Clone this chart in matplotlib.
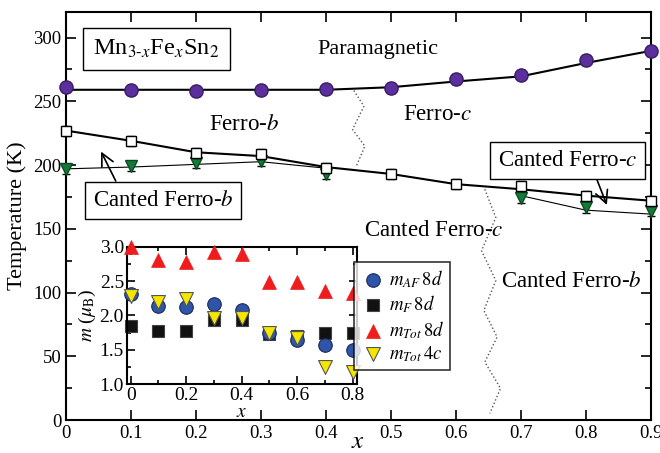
import numpy as np
import matplotlib
matplotlib.use("Agg")
import matplotlib.pyplot as plt
from matplotlib.ticker import MultipleLocator

plt.rcParams['font.family'] = ['Liberation Serif', 'DejaVu Serif']
plt.rcParams['mathtext.fontset'] = 'stix'

# Fe concentration
x = [0.0, 0.1, 0.2, 0.3, 0.4, 0.5, 0.6, 0.7, 0.8, 0.9]

# Curie temperature (paramagnetic boundary)
tc = [261, 258.6, 257.8, 258.6, 259.4, 260.4, 267.4, 270.3, 282.3, 289.6]
tc_err = [4, 4, 4, 4, 4, 4, 4, 4, 4, 4]
tc_line = [259, 259, 259, 259, 259, 261, 265.5, 269.5, 280, 289.5]

# Spin-reorientation temperature (open squares)
tsr = [226.6, 218.8, 209.6, 208.8, 197.9, 193.2, 184.9, 183.6, 175.8, 171.9]
tsr_err = [4, 4, 4, 4, 4, 4, 4, 4, 4, 4]
tsr_line = [227, 219, 210, 207, 198.4, 193, 185, 181, 176, 172]

# Canting temperature (green triangles)
x_cant = [0.0, 0.1, 0.2, 0.3, 0.4, 0.7, 0.8, 0.9]
tcant = [196.6, 199.2, 201.8, 203.1, 192.7, 174.5, 166.7, 164.0]
tcant_err = [4, 4, 4, 4, 4, 4, 4, 4]
x_cant_line1 = [0.0, 0.1, 0.2, 0.3, 0.4]
tcant_line1 = [197, 198.4, 200.5, 202.6, 197.5]
x_cant_line2 = [0.7, 0.8, 0.9]
tcant_line2 = [176, 164.6, 161.5]

# Phase-boundary guides (dotted zigzags)
zz1_x = [0.443, 0.4585, 0.441, 0.46, 0.4472]
zz1_t = [258.4, 246.1, 227.9, 214.8, 199.5]
zz2_x = [0.6446, 0.6615, 0.6395, 0.6615, 0.6431, 0.6635, 0.6446, 0.6688, 0.6523]
zz2_t = [181.0, 158.8, 132.8, 109.4, 85.9, 65.1, 45.5, 24.8, 5.2]

# Inset: magnetic moments
xi = [0.0, 0.1, 0.2, 0.3, 0.4, 0.5, 0.6, 0.7, 0.8]
m_af_8d = [2.31, 2.14, 2.13, 2.17, 2.08, 1.74, 1.65, 1.57, 1.50]
m_f_8d = [1.84, 1.77, 1.77, 1.93, 1.94, 1.73, 1.70, 1.75, 1.74]
m_tot_8d = [3.00, 2.80, 2.78, 2.92, 2.89, 2.49, 2.49, 2.36, 2.32]
m_tot_4c = [2.28, 2.20, 2.24, 1.97, 1.96, 1.75, 1.67, 1.25, 1.18]

fig = plt.figure(figsize=(6.6, 4.53), dpi=100)
ax = fig.add_axes([0.1, 0.0728, 0.886, 0.9007])

ax.plot(x, tc_line, color='black', lw=1.5, zorder=2)
ax.errorbar(x, tc, yerr=tc_err, fmt='o', ms=9.5, mfc='#5b2f9c', mec='#3a1d66',
            ecolor='black', elinewidth=1, capsize=3, zorder=3, clip_on=False)

ax.plot(x, tsr_line, color='black', lw=1.5, zorder=2)
ax.plot(x_cant_line1, tcant_line1, color='black', lw=0.8, zorder=2)
ax.plot(x_cant_line2, tcant_line2, color='black', lw=0.8, zorder=2)
ax.errorbar(x_cant, tcant, yerr=tcant_err, fmt='v', ms=8.5, mfc='#137a3a', mec='#0b4a22',
            ecolor='black', elinewidth=1, capsize=3, zorder=3, clip_on=False)
ax.errorbar(x, tsr, yerr=tsr_err, fmt='s', ms=7, mfc='white', mec='black', mew=1,
            ecolor='black', elinewidth=1, capsize=3, zorder=4, clip_on=False)

ax.plot(zz1_x, zz1_t, ls=':', color='#555555', lw=1.0, zorder=1)
ax.plot(zz2_x, zz2_t, ls=':', color='#555555', lw=1.0, zorder=1)

ax.set_xlim(0, 0.9)
ax.set_ylim(0, 320)
ax.yaxis.set_major_locator(MultipleLocator(50))
ax.yaxis.set_minor_locator(MultipleLocator(25))
ax.set_xticks(x)
ax.set_xticklabels(['0', '0.1', '0.2', '0.3', '0.4', '0.5', '0.6', '0.7', '0.8', '0.9'])
ax.tick_params(which='both', direction='in', top=True, right=True, labelsize=13.5)
ax.tick_params(which='major', length=7, width=1.2)
ax.tick_params(which='minor', length=4, width=1.2)
for s in ax.spines.values():
    s.set_linewidth(1.5)
ax.set_xlabel('$x$', fontsize=18)
ax.xaxis.set_label_coords(0.5, -0.028)
ax.set_ylabel('Temperature (K)', fontsize=16, labelpad=4)

box = dict(boxstyle='square,pad=0.42', fc='white', ec='black', lw=1)
ax.text(0.139, 291, r'Mn$_{3\text{-}x}$Fe$_x$Sn$_2$', fontsize=17.5, ha='center', va='center', bbox=box)
box = dict(boxstyle='square,pad=0.35', fc='white', ec='black', lw=1)
ax.text(0.48, 290.6, 'Paramagnetic', fontsize=16, ha='center', va='center')
ax.text(0.274, 232, 'Ferro-$b$', fontsize=16.5, ha='center', va='center')
ax.text(0.572, 240, 'Ferro-$c$', fontsize=16.5, ha='center', va='center')
ax.text(0.566, 149, 'Canted Ferro-$c$', fontsize=16.5, ha='center', va='center')
ax.text(0.778, 108.6, 'Canted Ferro-$b$', fontsize=16.5, ha='center', va='center')
ax.text(0.149, 171.9, 'Canted Ferro-$b$', fontsize=16.5, ha='center', va='center', bbox=box)
ax.text(0.772, 203.9, 'Canted Ferro-$c$', fontsize=16.5, ha='center', va='center', bbox=box)

arrow = dict(arrowstyle='->,head_length=0.9,head_width=0.45', color='black', lw=1.2)
ax.annotate('', xy=(0.052, 212.5), xytext=(0.0785, 185.5), arrowprops=arrow)
ax.annotate('', xy=(0.834, 166.6), xytext=(0.816, 190), arrowprops=arrow)

# Inset: moments per site
axi = fig.add_axes([0.192, 0.1517, 0.3494, 0.3037])
axi.scatter(xi, m_af_8d, marker='o', s=95, c='#2f55a8', edgecolors='#1a2a55', linewidths=0.8,
            zorder=3, clip_on=False, label=r'$m_{AF}\,8d$')
axi.scatter(xi, m_f_8d, marker='s', s=80, c='#111111', edgecolors='#444444', linewidths=0.8,
            zorder=2, clip_on=False, label=r'$m_F\,8d$')
axi.scatter(xi, m_tot_8d, marker='^', s=100, c='#ee1c1c', edgecolors='#ee1c1c', linewidths=0.5,
            zorder=3, clip_on=False, label=r'$m_{Tot}\,8d$')
axi.scatter(xi, m_tot_4c, marker='v', s=100, c='#f5e600', edgecolors='#555555', linewidths=0.8,
            zorder=4, clip_on=False, label=r'$m_{Tot}\,4c$')
axi.set_xlim(-0.0145, 0.8174)
axi.set_ylim(1.0, 3.0)
axi.xaxis.set_minor_locator(MultipleLocator(0.1))
axi.yaxis.set_minor_locator(MultipleLocator(0.25))
axi.set_xticks([0, 0.2, 0.4, 0.6, 0.8])
axi.set_xticklabels(['0', '0.2', '0.4', '0.6', '0.8'])
axi.set_yticks([1.0, 1.5, 2.0, 2.5, 3.0])
axi.set_yticklabels(['1.0', '1.5', '2.0', '2.5', '3.0'])
axi.tick_params(which='both', direction='in', top=True, right=True, labelsize=14, pad=2)
axi.tick_params(which='major', length=6, width=1.2)
axi.tick_params(which='minor', length=3, width=1.2)
for s in axi.spines.values():
    s.set_linewidth(1.5)
axi.set_xlabel('$x$', fontsize=14, labelpad=0)
axi.set_ylabel(r'$m$ ($\mu_\mathrm{B}$)', fontsize=14, labelpad=1)

leg = fig.legend(loc='upper left', bbox_to_anchor=(0.536, 0.421), fontsize=13.5,
                 frameon=True, fancybox=False, edgecolor='black', handletextpad=0.2,
                 borderpad=0.3, labelspacing=0.2, handlelength=1.4, borderaxespad=0,
                 scatterpoints=1)
leg.get_frame().set_linewidth(1.2)

fig.savefig('out.png', dpi=100)
